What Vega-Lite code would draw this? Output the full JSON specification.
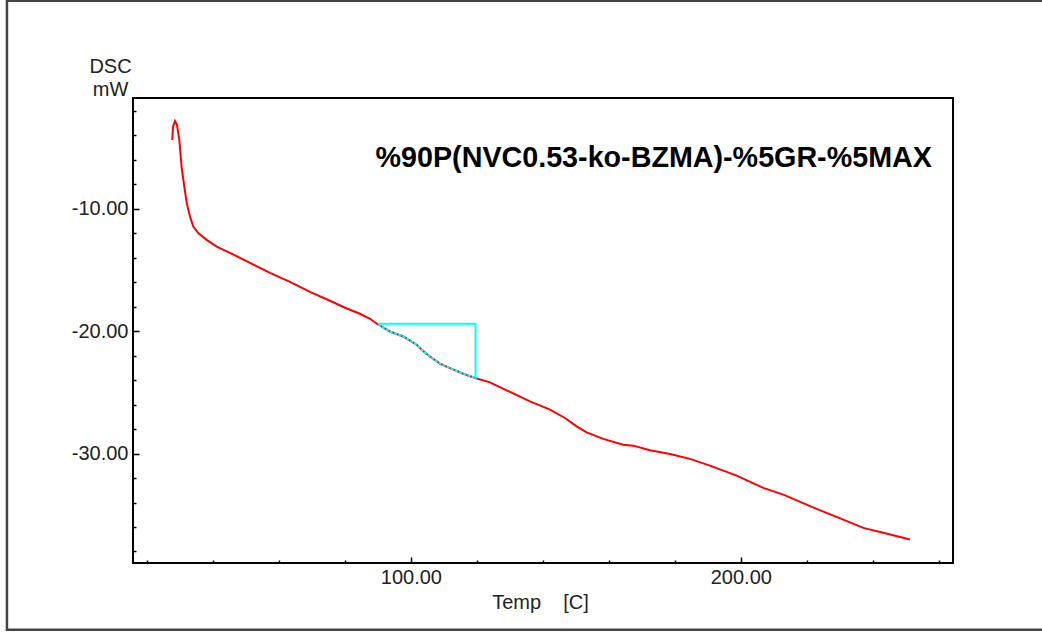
{
  "$schema": "https://vega.github.io/schema/vega-lite/v6.json",
  "autosize": {"type": "none"},
  "width": 820,
  "height": 465,
  "padding": {"left": 133, "top": 98, "right": 89, "bottom": 72},
  "background": "white",
  "config": {
    "view": {"stroke": "#000000", "strokeWidth": 2},
    "axis": {
      "domain": false,
      "grid": false,
      "tickColor": "#000000",
      "tickWidth": 1.5,
      "labelFont": "Liberation Sans",
      "labelFontSize": 20,
      "labelColor": "#222222",
      "labelOverlap": false,
      "labelFlush": false,
      "titleFont": "Liberation Sans",
      "titleFontSize": 20,
      "titleFontWeight": "normal",
      "titleColor": "#222222"
    }
  },
  "datasets": {
    "dsc": [
      {"t": 27.7, "dsc": -4.37},
      {"t": 27.92, "dsc": -3.31},
      {"t": 28.53, "dsc": -2.82},
      {"t": 29.13, "dsc": -3.14},
      {"t": 29.83, "dsc": -4.37},
      {"t": 30.56, "dsc": -6.65},
      {"t": 31.35, "dsc": -8.18},
      {"t": 32.07, "dsc": -9.51},
      {"t": 33.07, "dsc": -10.63},
      {"t": 34.07, "dsc": -11.45},
      {"t": 35.59, "dsc": -11.98},
      {"t": 38.13, "dsc": -12.53},
      {"t": 41.16, "dsc": -13.08},
      {"t": 45.19, "dsc": -13.59},
      {"t": 51.25, "dsc": -14.41},
      {"t": 57.32, "dsc": -15.23},
      {"t": 63.38, "dsc": -15.96},
      {"t": 69.44, "dsc": -16.78},
      {"t": 75.5, "dsc": -17.51},
      {"t": 80.05, "dsc": -18.08},
      {"t": 84.59, "dsc": -18.57},
      {"t": 87.62, "dsc": -18.98},
      {"t": 89.74, "dsc": -19.39},
      {"t": 93.68, "dsc": -20.02},
      {"t": 97.71, "dsc": -20.43},
      {"t": 101.77, "dsc": -21.1},
      {"t": 103.28, "dsc": -21.51},
      {"t": 105.8, "dsc": -22.06},
      {"t": 108.83, "dsc": -22.65},
      {"t": 111.86, "dsc": -23.01},
      {"t": 115.89, "dsc": -23.47},
      {"t": 119.44, "dsc": -23.82},
      {"t": 123.98, "dsc": -24.18},
      {"t": 129.04, "dsc": -24.83},
      {"t": 136.1, "dsc": -25.73},
      {"t": 142.16, "dsc": -26.41},
      {"t": 146.71, "dsc": -27.09},
      {"t": 150.25, "dsc": -27.77},
      {"t": 153.28, "dsc": -28.26},
      {"t": 158.32, "dsc": -28.8},
      {"t": 164.38, "dsc": -29.27},
      {"t": 167.41, "dsc": -29.35},
      {"t": 172.47, "dsc": -29.73},
      {"t": 178.53, "dsc": -30.03},
      {"t": 184.59, "dsc": -30.43},
      {"t": 190.65, "dsc": -30.98},
      {"t": 198.74, "dsc": -31.8},
      {"t": 206.8, "dsc": -32.8},
      {"t": 212.86, "dsc": -33.35},
      {"t": 222.98, "dsc": -34.52},
      {"t": 231.05, "dsc": -35.39},
      {"t": 237.11, "dsc": -36.07},
      {"t": 243.17, "dsc": -36.47},
      {"t": 251.26, "dsc": -37.02}
    ],
    "tg": [
      {"o": 0, "t": 89.74, "dsc": -19.39},
      {"o": 1, "t": 119.6, "dsc": -19.39},
      {"o": 2, "t": 119.6, "dsc": -23.82},
      {"o": 3, "t": 115.89, "dsc": -23.47},
      {"o": 4, "t": 111.86, "dsc": -23.01},
      {"o": 5, "t": 108.83, "dsc": -22.65},
      {"o": 6, "t": 105.8, "dsc": -22.06},
      {"o": 7, "t": 103.28, "dsc": -21.51},
      {"o": 8, "t": 101.77, "dsc": -21.1},
      {"o": 9, "t": 97.71, "dsc": -20.43},
      {"o": 10, "t": 93.68, "dsc": -20.02},
      {"o": 11, "t": 89.74, "dsc": -19.39}
    ],
    "one": [{"label": "%90P(NVC0.53-ko-BZMA)-%5GR-%5MAX"}]
  },
  "layer": [
    {
      "data": {"name": "dsc"},
      "mark": {"type": "line", "color": "#ff0000", "strokeWidth": 2, "interpolate": "linear"},
      "encoding": {
        "x": {
          "field": "t", "type": "quantitative", "sort": null,
          "scale": {"domain": [15.8, 264.3], "nice": false, "zero": false},
          "axis": {
            "values": [20, 40, 60, 80, 100, 120, 140, 160, 180, 200, 220, 240, 260],
            "tickCount": 40,
            "labelExpr": "datum.value % 100 === 0 ? format(datum.value, '.2f') : ''",
            "labelOverlap": false,
            "tickSize": {"condition": {"test": "datum.value % 100 === 0", "value": -6}, "value": -3},
            "labelPadding": 10,
            "title": "Temp\u00a0\u00a0\u00a0\u00a0[C]",
            "titleX": 407,
            "titleY": 45,
            "titleAlign": "center",
            "titleBaseline": "alphabetic",
            "titleAnchor": "start"
          }
        },
        "y": {
          "field": "dsc", "type": "quantitative",
          "scale": {"domain": [-38.94, -0.94], "nice": false, "zero": false},
          "axis": {
            "values": [-38, -36, -34, -32, -30, -28, -26, -24, -22, -20, -18, -16, -14, -12, -10, -8, -6, -4, -2],
            "tickCount": 40,
            "labelExpr": "abs(datum.value % 10) < 0.001 ? '-' + format(abs(datum.value), '.2f') : ''",
            "labelOverlap": false,
            "tickSize": {"condition": {"test": "abs(datum.value % 10) < 0.001", "value": -6}, "value": -3},
            "labelPadding": 11,
            "title": ["DSC", "mW"],
            "titleAngle": 0,
            "titleX": -23,
            "titleY": -26,
            "titleAlign": "center",
            "titleBaseline": "alphabetic",
            "titleLineHeight": 23,
            "titleAnchor": "start"
          }
        }
      }
    },
    {
      "data": {"name": "tg"},
      "mark": {"type": "line", "color": "#00ffff", "strokeWidth": 2},
      "encoding": {
        "x": {"field": "t", "type": "quantitative", "scale": {"domain": [15.8, 264.3], "nice": false, "zero": false}},
        "y": {"field": "dsc", "type": "quantitative", "scale": {"domain": [-38.94, -0.94], "nice": false, "zero": false}},
        "order": {"field": "o", "type": "quantitative"}
      }
    },
    {
      "data": {"name": "dsc"},
      "transform": [{"filter": "datum.t >= 89.7 && datum.t <= 119.5"}],
      "mark": {"type": "line", "color": "#ff0000", "strokeWidth": 1.5, "strokeDash": [1.5, 3]},
      "encoding": {
        "x": {"field": "t", "type": "quantitative", "scale": {"domain": [15.8, 264.3], "nice": false, "zero": false}},
        "y": {"field": "dsc", "type": "quantitative", "scale": {"domain": [-38.94, -0.94], "nice": false, "zero": false}}
      }
    },
    {
      "data": {"name": "one"},
      "mark": {"type": "text", "align": "right", "baseline": "alphabetic", "font": "Liberation Sans", "fontSize": 28.7, "fontWeight": "bold", "color": "#000000"},
      "encoding": {
        "x": {"datum": 257.9, "type": "quantitative", "scale": {"domain": [15.8, 264.3], "nice": false, "zero": false}},
        "y": {"datum": -6.57, "type": "quantitative", "scale": {"domain": [-38.94, -0.94], "nice": false, "zero": false}},
        "text": {"field": "label"}
      }
    },
    {
      "data": {"name": "one"},
      "mark": {"type": "rect", "filled": false, "stroke": "#444444", "strokeWidth": 2.5, "clip": false},
      "encoding": {
        "x": {"datum": -22.4, "type": "quantitative", "scale": {"domain": [15.8, 264.3], "nice": false, "zero": false}},
        "x2": {"datum": 315},
        "y": {"datum": 7.0, "type": "quantitative", "scale": {"domain": [-38.94, -0.94], "nice": false, "zero": false}},
        "y2": {"datum": -44.4}
      }
    }
  ]
}
